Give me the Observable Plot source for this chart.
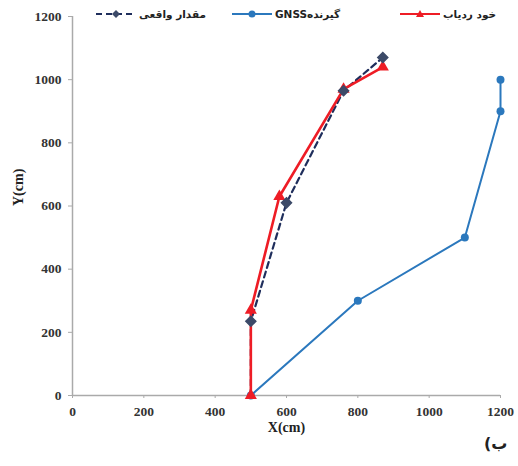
<!DOCTYPE html>
<html>
<head>
<meta charset="utf-8">
<script src="https://cdn.jsdelivr.net/npm/d3@7"></script>
<script src="https://cdn.jsdelivr.net/npm/@observablehq/plot@0.6"></script>
<style>
  body { margin: 0; background: #fff; }
  #wrap { position: relative; width: 518px; height: 466px; font-family: "Liberation Serif", "DejaVu Sans", serif; }
  .leg { position: absolute; top: 8px; display: flex; align-items: center; font-family: "DejaVu Sans", sans-serif; font-size: 10.5px; font-weight: bold; color: #222; }
  .leg span { direction: rtl; unicode-bidi: embed; }
  #tag { position: absolute; left: 484px; top: 434px; font-family: "DejaVu Sans", sans-serif; font-weight: bold; font-size: 16px; color: #222; direction: rtl; }
</style>
</head>
<body>
<div id="wrap"></div>
<script>
// Data
const seriesNames = ["مقدار واقعی", "گیرندهGNSS", "خود ردیاب"];
const actualX = [500, 500, 600, 760, 870];
const actualY = [0, 235, 610, 965, 1070];
const trackerX = [500, 500, 580, 760, 870];
const trackerY = [0, 270, 630, 970, 1040];
const gnssX = [500, 800, 1100, 1200, 1200];
const gnssY = [0, 300, 500, 900, 1000];
const ticks = [0, 200, 400, 600, 800, 1000, 1200];

const colors = {actual: "#1f2e5c", gnss: "#2b78bd", tracker: "#ee1c25"};

const toRows = (xs, ys) => xs.map((x, i) => ({x, y: ys[i]}));
const actual = toRows(actualX, actualY);
const tracker = toRows(trackerX, trackerY);
const gnss = toRows(gnssX, gnssY);

const chart = Plot.plot({
  width: 518,
  height: 450,
  marginLeft: 72,
  marginRight: 18,
  marginTop: 16,
  marginBottom: 55,
  style: {fontFamily: "'Liberation Serif', serif", fontSize: "13.5px", fontWeight: "bold", color: "#333", background: "#fff"},
  x: {domain: [0, 1200], label: null},
  y: {domain: [0, 1200], label: null},
  marks: [
    Plot.ruleX([0], {stroke: "#aaa", strokeWidth: 1.5}),
    Plot.ruleY([0], {stroke: "#aaa", strokeWidth: 1.5}),
    Plot.axisY({ticks: ticks, tickSize: 4, tickPadding: 7, stroke: "#aaa", label: null, tickFormat: d3.format("d"), fontWeight: "bold", fontSize: 13.5}),
    Plot.axisX({ticks: ticks, tickSize: 3, tickPadding: 8, stroke: "#aaa", label: null, tickFormat: d3.format("d"), fontWeight: "bold", fontSize: 13.5}),
    Plot.text(["X(cm)"], {frameAnchor: "bottom", dy: 36, fontSize: 14, fontWeight: "bold", fill: "#222"}),
    Plot.text(["Y(cm)"], {frameAnchor: "left", dx: -54, rotate: -90, fontSize: 14, fontWeight: "bold", fill: "#222"}),
    Plot.line(gnss, {x: "x", y: "y", stroke: colors.gnss, strokeWidth: 2}),
    Plot.dot(gnss, {x: "x", y: "y", fill: colors.gnss, r: 4}),
    Plot.line(actual, {x: "x", y: "y", stroke: colors.actual, strokeWidth: 2.2, strokeDasharray: "6,4"}),
    Plot.line(tracker, {x: "x", y: "y", stroke: colors.tracker, strokeWidth: 2.6}),
    Plot.dot(tracker, {x: "x", y: "y", fill: colors.tracker, symbol: "triangle", r: 4.5}),
    Plot.dot(actual.slice(1), {x: "x", y: "y", fill: "#3c4a68", symbol: "diamond2", r: 4.5, stroke: "#3c4a68"})
  ]
});

const wrap = document.getElementById("wrap");
wrap.appendChild(chart);

// Legend
function legItem(left, name, color, dash, symbol) {
  const d = document.createElement("div");
  d.className = "leg";
  d.style.left = left + "px";
  let sym = "";
  if (symbol === "circle") sym = `<circle cx="20" cy="6" r="3.5" fill="${color}"/>`;
  if (symbol === "triangle") sym = `<path d="M20,2 L24,9 L16,9 Z" fill="${color}"/>`;
  if (symbol === "diamond") sym = `<path d="M20,2 L24,6 L20,10 L16,6 Z" fill="#3c4a68"/>`;
  d.innerHTML = `<svg width="40" height="12"><line x1="0" y1="6" x2="40" y2="6" stroke="${color}" stroke-width="2.2" ${dash ? 'stroke-dasharray="6,4"' : ''}/>${sym}</svg><span style="margin-left:3px">${name}</span>`;
  wrap.appendChild(d);
}
legItem(96, seriesNames[0], colors.actual, true, "diamond");
legItem(232, seriesNames[1], colors.gnss, false, "circle");
legItem(400, seriesNames[2], colors.tracker, false, "triangle");

const tag = document.createElement("div");
tag.id = "tag";
tag.textContent = "ب)";
wrap.appendChild(tag);
</script>
</body>
</html>
